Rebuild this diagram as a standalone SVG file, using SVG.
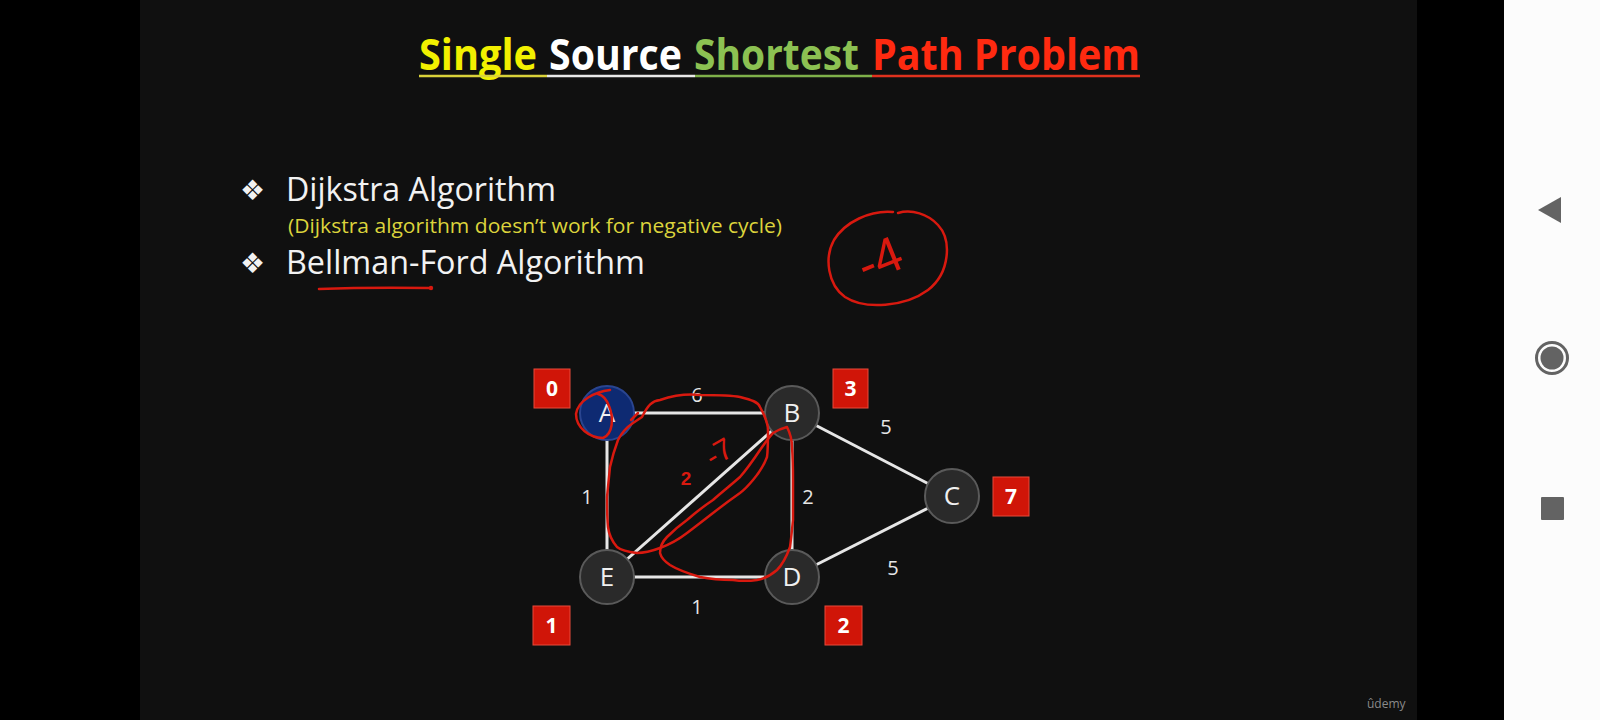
<svg xmlns="http://www.w3.org/2000/svg" width="1600" height="720" viewBox="0 0 1600 720">
<defs>
<style>
.t{font-family:"Open Sans","Liberation Sans",sans-serif}
.title{font-family:"Open Sans","Liberation Sans",sans-serif;font-weight:700;font-size:43px}
.bul{font-family:"DejaVu Sans",sans-serif;font-size:28px;fill:#f2f2f2}
.item{font-family:"Open Sans","Liberation Sans",sans-serif;font-size:32px;fill:#f2f2f2}
.edge{stroke:#e6e6e6;stroke-width:3;fill:none}
.node{fill:#2a2a2a;stroke:#5a5a5a;stroke-width:2}
.nlab{font-family:"Open Sans","Liberation Sans",sans-serif;font-size:26px;fill:#f0f0f0;text-anchor:middle}
.elab{font-family:"Open Sans","Liberation Sans",sans-serif;font-size:20px;fill:#e6e6e6;text-anchor:middle}
.box{fill:#d01508;stroke:#e84a3a;stroke-width:1}
.blab{font-family:"Open Sans","Liberation Sans",sans-serif;font-size:21px;font-weight:700;fill:#ffffff;text-anchor:middle}
.ink{stroke:#d8190f;stroke-width:2.5;fill:none;stroke-linecap:round;stroke-linejoin:round}
.inkt{font-family:"Liberation Sans",sans-serif;fill:#d8190f}
</style>
</defs>
<rect x="0" y="0" width="1600" height="720" fill="#000000"/>
<rect x="140" y="0" width="1277" height="720" fill="#101010"/>
<rect x="1504" y="0" width="96" height="720" fill="#fcfcfc"/>
<g id="navbar" fill="#636363">
<polygon points="1538,210 1561,197 1561,223"/>
<circle cx="1552" cy="358" r="15.5" fill="none" stroke="#636363" stroke-width="3"/>
<circle cx="1552" cy="358" r="11.5"/>
<rect x="1541" y="497" width="23" height="23" rx="1"/>
</g>
<g id="title">
<text class="title" x="419" y="70" fill="#f2f000" textLength="118" lengthAdjust="spacingAndGlyphs">Single</text>
<text class="title" x="549" y="70" fill="#ffffff" textLength="133" lengthAdjust="spacingAndGlyphs">Source</text>
<text class="title" x="694" y="70" fill="#8cc152" textLength="165" lengthAdjust="spacingAndGlyphs">Shortest</text>
<text class="title" x="872" y="70" fill="#ff2a10" textLength="268" lengthAdjust="spacingAndGlyphs">Path Problem</text>
<line x1="419" y1="76" x2="547" y2="76" stroke="#d9d23a" stroke-width="2.5"/>
<line x1="547" y1="76" x2="695" y2="76" stroke="#e8e8e8" stroke-width="2.5"/>
<line x1="695" y1="76" x2="872" y2="76" stroke="#7fb04a" stroke-width="2.5"/>
<line x1="872" y1="76" x2="1140" y2="76" stroke="#e0321e" stroke-width="2.5"/>
</g>
<g id="bullets">
<text class="bul" x="240" y="200">❖</text>
<text class="item" x="286" y="201" textLength="270" lengthAdjust="spacingAndGlyphs">Dijkstra Algorithm</text>
<text class="t" x="288" y="233" font-size="20" font-weight="500" fill="#dcd43c" textLength="494" lengthAdjust="spacingAndGlyphs">(Dijkstra algorithm doesn’t work for negative cycle)</text>
<text class="bul" x="240" y="273">❖</text>
<text class="item" x="286" y="274" textLength="359" lengthAdjust="spacingAndGlyphs">Bellman-Ford Algorithm</text>
<path class="ink" d="M319,289 Q370,287 430,288" stroke-width="2"/>
<circle cx="431" cy="288" r="2.2" fill="#d8190f"/>
</g>
<g id="neg4">
<path class="ink" d="M893,212 C870,210 845,222 834,240 C824,258 828,285 845,297 C865,310 905,307 928,290 C950,273 952,240 938,225 C928,214 912,209 898,213"/>
<text class="inkt" x="886" y="275" font-size="50" text-anchor="middle" transform="rotate(-22 886 275)">-4</text>
</g>
<g id="connectors">
<line class="edge" x1="607" y1="413" x2="792" y2="413"/>
<line class="edge" x1="607" y1="413" x2="607" y2="577"/>
<line class="edge" x1="792" y1="413" x2="792" y2="577"/>
<line class="edge" x1="607" y1="577" x2="792" y2="577"/>
<line class="edge" x1="792" y1="413" x2="952" y2="496"/>
<line class="edge" x1="792" y1="577" x2="952" y2="496"/>
<line class="edge" x1="607" y1="577" x2="792" y2="413"/>
<text class="elab" x="697" y="402">6</text>
<text class="elab" x="886" y="434">5</text>
<text class="elab" x="587" y="504">1</text>
<text class="elab" x="808" y="504">2</text>
<text class="elab" x="893" y="575">5</text>
<text class="elab" x="697" y="614">1</text>
</g>
<g id="node-A"><circle cx="607" cy="413" r="27" fill="#0e2a72" stroke="#2a4590" stroke-width="2"/><text class="nlab" x="607" y="422">A</text></g>
<g id="node-B"><circle class="node" cx="792" cy="413" r="27"/><text class="nlab" x="792" y="422">B</text></g>
<g id="node-C"><circle class="node" cx="952" cy="496" r="27"/><text class="nlab" x="952" y="505">C</text></g>
<g id="node-D"><circle class="node" cx="792" cy="577" r="27"/><text class="nlab" x="792" y="586">D</text></g>
<g id="node-E"><circle class="node" cx="607" cy="577" r="27"/><text class="nlab" x="607" y="586">E</text></g>
<g id="dist-A"><rect class="box" x="534" y="369" width="36" height="39"/><text class="blab" x="552" y="396">0</text></g>
<g id="dist-B"><rect class="box" x="833" y="369" width="35" height="39"/><text class="blab" x="850.5" y="396">3</text></g>
<g id="dist-C"><rect class="box" x="993" y="477" width="36" height="39"/><text class="blab" x="1011" y="504">7</text></g>
<g id="dist-E"><rect class="box" x="533" y="606" width="37" height="39"/><text class="blab" x="551.5" y="633">1</text></g>
<g id="dist-D"><rect class="box" x="825" y="606" width="37" height="39"/><text class="blab" x="843.5" y="633">2</text></g>
<g id="annotations">
<path class="ink" d="M610,390 C595,392 578,400 576,414 C576,428 590,438 603,438 C613,434 614,418 609,406 C606,398 602,395 598,394"/>
<path class="ink" d="M642,417 C648,405 652,401 660,400 C675,395 690,394 700,395 C715,395 730,395 740,397 C752,400 758,402 760,407 C766,418 768,425 768,430 C768,442 768,450 767,457 C763,468 758,474 753,480 C748,486 744,490 740,493 C730,500 722,506 713,513 C704,520 695,527 687,533 C678,540 668,545 660,548 C652,551 645,553 637,553 C628,552 622,551 617,547 C611,540 609,535 608,527 C607,517 607,507 607,497 C608,487 609,477 610,467 C612,458 615,448 618,440 C622,432 627,427 633,423 C636,421 639,419 642,417"/>
<path class="ink" d="M787,427 C790,433 792,440 792,447 C793,460 793,470 793,480 C793,495 793,508 793,520 C792,530 791,540 790,547 C786,558 782,565 777,570 C770,576 763,579 757,580 C750,581 740,581 733,580 C722,580 710,579 700,577 C690,574 678,570 670,565 C664,561 661,557 660,553 C660,547 663,541 667,537 C673,531 680,525 687,520 C695,513 704,506 713,500 C722,492 731,485 740,477 C747,469 754,459 760,450 C765,443 769,437 773,433 C778,430 783,428 787,427"/>
<path class="ink" d="M631,420 L638,413" stroke-width="3"/>
<text class="inkt" x="724" y="461" font-size="30" text-anchor="middle" transform="rotate(-30 724 461)">-7</text>
<text class="inkt" x="686" y="485" font-size="19" font-weight="700" text-anchor="middle" fill="#e2402e">2</text>
</g>
<text class="t" x="1367" y="708" font-size="12" fill="#8a8a8a">ûdemy</text>
</svg>
